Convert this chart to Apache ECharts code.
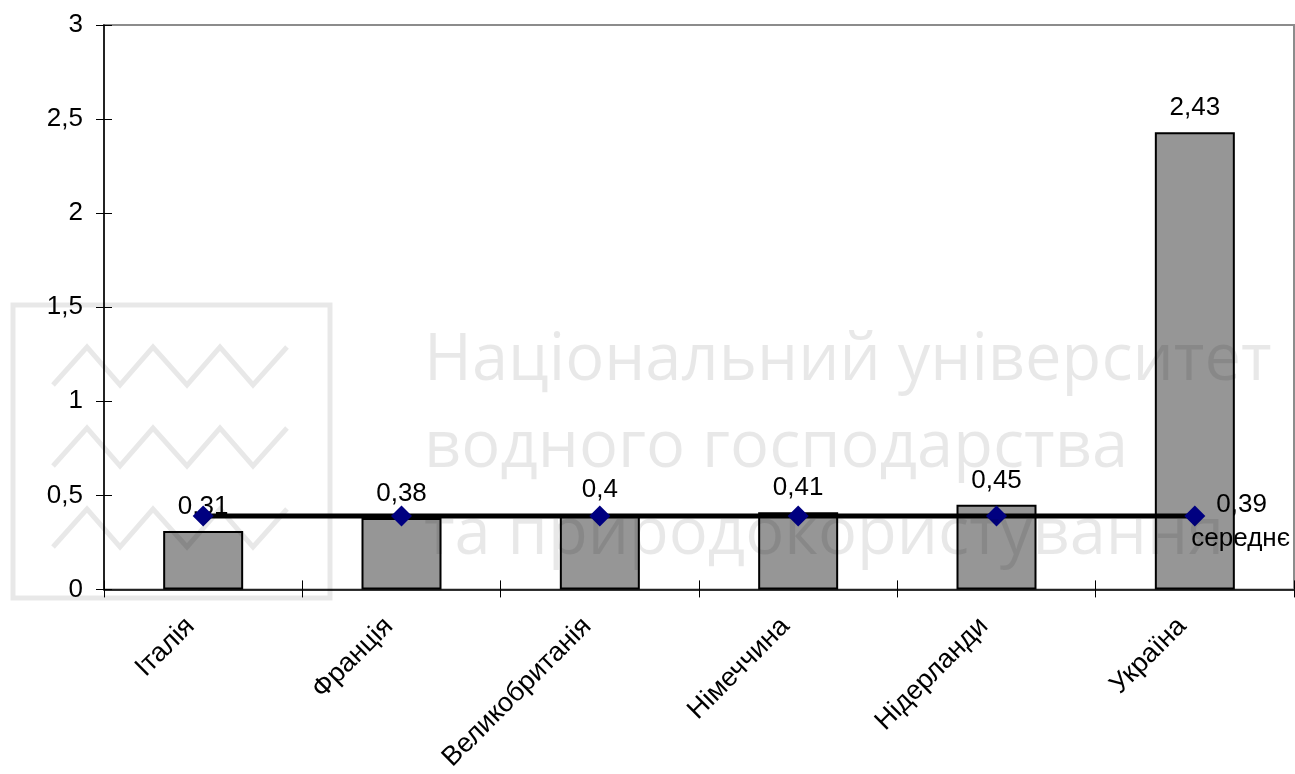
<!DOCTYPE html>
<html>
<head>
<meta charset="utf-8">
<script src="https://cdn.jsdelivr.net/npm/echarts@6/dist/echarts.min.js"></script>
<style>
html,body{margin:0;padding:0;background:#fff;}
#chart{width:1295px;height:774px;}
</style>
</head>
<body>
<div id="chart"></div>
<script>
var categories = ['Італія', 'Франція', 'Великобританія', 'Німеччина', 'Нідерланди', 'Україна'];
var barValues = [0.31, 0.38, 0.4, 0.41, 0.45, 2.43];
var averageValues = [0.39, 0.39, 0.39, 0.39, 0.39, 0.39];
var averageName = 'середнє';
var yTicks = { min: 0, max: 3, interval: 0.5 };
var watermarkLines = ['Національний університет', 'водного господарства', 'та природокористування'];

function fmt(v) { return String(v).replace('.', ','); }

var FONT = 'Liberation Sans, Arial, sans-serif';
var FS = 26;

var lineData = averageValues.map(function (v, i) {
  if (i === averageValues.length - 1) {
    return {
      value: v,
      label: {
        show: true,
        position: [7, -18],
        formatter: function (p) { return '{a|' + fmt(p.value) + '}\n{b|' + averageName + '}'; },
        rich: {
          a: { fontSize: FS, fontFamily: FONT, color: '#000', lineHeight: 34, padding: [0, 0, 0, 25] },
          b: { fontSize: FS, fontFamily: FONT, color: '#000', lineHeight: 34 }
        }
      }
    };
  }
  return v;
});

var zig = function (dy) {
  var xs = [53, 87, 120, 153, 187, 220, 253, 287];
  return xs.map(function (x, i) { return [x, (i % 2 === 0 ? 385 : 347) + dy]; });
};
var wmColor = 'rgba(0,0,0,0.09)';
var wmFont = '65px "Open Sans", sans-serif';

var chart = echarts.init(document.getElementById('chart'));
chart.setOption({
  animation: false,
  backgroundColor: '#fff',
  grid: { left: 104, right: 1, top: 25, bottom: 183, show: true, borderColor: '#8c8c8c', borderWidth: 2, backgroundColor: 'transparent' },
  xAxis: [{
    type: 'category',
    data: categories,
    boundaryGap: true,
    axisLine: { lineStyle: { color: '#000', width: 1.5 } },
    axisTick: { show: true, length: 8, lineStyle: { color: '#000', width: 1 } },
    axisLabel: { rotate: 45, margin: 20, padding: [0, 18, 0, 0], fontSize: 27, fontFamily: FONT, color: '#000', interval: 0 }
  }, {
    type: 'category',
    data: categories,
    position: 'bottom',
    boundaryGap: true,
    axisLine: { show: false },
    axisTick: { show: true, inside: true, length: 9, lineStyle: { color: '#000', width: 1 } },
    axisLabel: { show: false }
  }],
  yAxis: [{
    type: 'value',
    min: yTicks.min, max: yTicks.max, interval: yTicks.interval,
    axisLine: { show: true, lineStyle: { color: '#000', width: 1.5 } },
    axisTick: { show: true, length: 8, lineStyle: { color: '#000', width: 1 } },
    splitLine: { show: false },
    axisLabel: { margin: 21, fontSize: FS, fontFamily: FONT, color: '#000', formatter: function (v) { return fmt(v); } }
  }, {
    type: 'value',
    position: 'left',
    min: yTicks.min, max: yTicks.max, interval: yTicks.interval,
    axisLine: { show: false },
    axisTick: { show: true, inside: true, length: 8, lineStyle: { color: '#000', width: 1 } },
    splitLine: { show: false },
    axisLabel: { show: false }
  }],
  series: [{
    name: 'value',
    type: 'bar',
    data: barValues,
    barWidth: 80,
    itemStyle: { color: '#969696', borderColor: '#000', borderWidth: 2 },
    label: { show: true, position: 'top', distance: 11, fontSize: FS, fontFamily: FONT, color: '#000', formatter: function (p) { return fmt(p.value); } }
  }, {
    name: averageName,
    type: 'line',
    data: lineData,
    symbol: 'diamond',
    symbolSize: 21,
    lineStyle: { color: '#000', width: 5 },
    itemStyle: { color: '#000080' },
    z: 5
  }],
  graphic: [
    { type: 'rect', z: 100, silent: true, shape: { x: 13, y: 305, width: 317, height: 293 }, style: { fill: null, stroke: wmColor, lineWidth: 5 } },
    { type: 'polyline', z: 100, silent: true, shape: { points: zig(0) }, style: { fill: null, stroke: wmColor, lineWidth: 5 } },
    { type: 'polyline', z: 100, silent: true, shape: { points: zig(81) }, style: { fill: null, stroke: wmColor, lineWidth: 5 } },
    { type: 'polyline', z: 100, silent: true, shape: { points: zig(162) }, style: { fill: null, stroke: wmColor, lineWidth: 5 } },
    { type: 'text', z: 100, silent: true, left: 424, top: 329, style: { text: watermarkLines[0], fill: wmColor, font: wmFont } },
    { type: 'text', z: 100, silent: true, left: 424, top: 416, style: { text: watermarkLines[1], fill: wmColor, font: wmFont } },
    { type: 'text', z: 100, silent: true, left: 424, top: 503, style: { text: watermarkLines[2], fill: wmColor, font: wmFont } }
  ]
});
</script>
</body>
</html>
